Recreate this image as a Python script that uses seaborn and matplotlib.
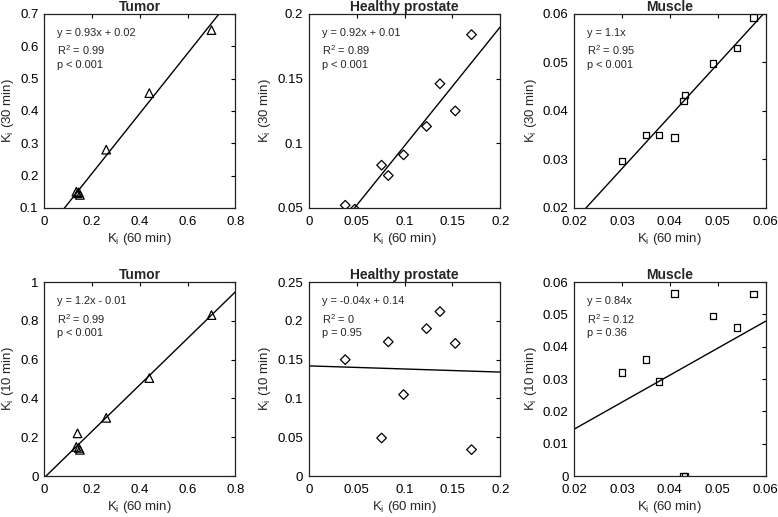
import numpy as np
import pandas as pd
import matplotlib
matplotlib.use("Agg")
import matplotlib.pyplot as plt
import seaborn as sns

# Ki values
tumor_k60 = [0.135, 0.14, 0.145, 0.15, 0.26, 0.44, 0.70]
tumor_k30 = [0.15, 0.145, 0.148, 0.14, 0.28, 0.455, 0.65]
tumor_k10 = [0.15, 0.22, 0.145, 0.135, 0.30, 0.505, 0.83]

prostate_k60 = [0.038, 0.048, 0.076, 0.083, 0.099, 0.123, 0.137, 0.153, 0.170]
prostate_k30 = [0.052, 0.049, 0.083, 0.075, 0.091, 0.113, 0.146, 0.125, 0.184]
prostate_k10 = [0.15, np.nan, 0.049, 0.173, 0.105, 0.19, 0.212, 0.171, 0.034]

muscle_k60 = [0.030, 0.035, 0.0377, 0.041, 0.0428, 0.0432, 0.049, 0.054, 0.0575]
muscle_k30 = [0.0297, 0.035, 0.035, 0.0345, 0.042, 0.0433, 0.0498, 0.053, 0.0593]
muscle_k10 = [0.032, 0.036, 0.0293, 0.0565, 0.0, 0.0, 0.0495, 0.046, 0.0563]

# regression lines (slope, intercept) as drawn
fit_lines = {
    ("Tumor", 30): (0.93, 0.02),
    ("Healthy prostate", 30): (0.92, 0.006),
    ("Muscle", 30): (1.08, -0.0043),
    ("Tumor", 10): (1.2, -0.01),
    ("Healthy prostate", 10): (-0.04, 0.142),
    ("Muscle", 10): (0.835, -0.0022),
}

fit_text = {
    ("Tumor", 30): ["y = 0.93x + 0.02", "R$^2$ = 0.99", "p < 0.001"],
    ("Healthy prostate", 30): ["y = 0.92x + 0.01", "R$^2$ = 0.89", "p < 0.001"],
    ("Muscle", 30): ["y = 1.1x", "R$^2$ = 0.95", "p < 0.001"],
    ("Tumor", 10): ["y = 1.2x - 0.01", "R$^2$ = 0.99", "p < 0.001"],
    ("Healthy prostate", 10): ["y = -0.04x + 0.14", "R$^2$ = 0", "p = 0.95"],
    ("Muscle", 10): ["y = 0.84x", "R$^2$ = 0.12", "p = 0.36"],
}

panels = [
    ("Tumor", 30, tumor_k60, tumor_k30, "^", (0, 0.8), np.arange(0, 0.81, 0.2), (0.1, 0.7), np.arange(0.1, 0.71, 0.1)),
    ("Healthy prostate", 30, prostate_k60, prostate_k30, "D", (0, 0.2), np.arange(0, 0.21, 0.05), (0.05, 0.2), np.arange(0.05, 0.21, 0.05)),
    ("Muscle", 30, muscle_k60, muscle_k30, "s", (0.02, 0.06), np.arange(0.02, 0.061, 0.01), (0.02, 0.06), np.arange(0.02, 0.061, 0.01)),
    ("Tumor", 10, tumor_k60, tumor_k10, "^", (0, 0.8), np.arange(0, 0.81, 0.2), (0, 1), np.arange(0, 1.01, 0.2)),
    ("Healthy prostate", 10, prostate_k60, prostate_k10, "D", (0, 0.2), np.arange(0, 0.21, 0.05), (0, 0.25), np.arange(0, 0.251, 0.05)),
    ("Muscle", 10, muscle_k60, muscle_k10, "s", (0.02, 0.06), np.arange(0.02, 0.061, 0.01), (0, 0.06), np.arange(0, 0.061, 0.01)),
]

sns.set_style("white")
plt.rcParams['font.family'] = ['Liberation Sans', 'DejaVu Sans']
plt.rcParams['mathtext.fontset'] = 'custom'
plt.rcParams['mathtext.rm'] = 'Liberation Sans'
plt.rcParams['mathtext.it'] = 'Liberation Sans:italic'

fig = plt.figure(figsize=(7.78, 5.17), dpi=100)

lefts = [0.0566, 0.397, 0.738]
bottoms = [0.598, 0.0793]
w, h = 0.246, 0.375

marker_sizes = {"^": 38, "D": 24, "s": 22}


def fmt(v):
    s = f"{v:.2f}".rstrip("0").rstrip(".")
    return s


for i, (name, t, xs, ys, mk, xl, xt, yl, yt) in enumerate(panels):
    ax = fig.add_axes([lefts[i % 3], bottoms[i // 3], w, h])
    df = pd.DataFrame({"k60": xs, "k": ys}).dropna()
    sns.scatterplot(data=df, x="k60", y="k", marker=mk, s=marker_sizes[mk],
                    facecolor="none", edgecolor="black", linewidth=0.9, ax=ax,
                    clip_on=True, zorder=3)
    slope, icpt = fit_lines[(name, t)]
    lx = np.array(xl)
    ax.plot(lx, slope * lx + icpt, color="black", lw=1.0, zorder=2)
    ax.set_xlim(xl)
    ax.set_ylim(yl)
    ax.set_xticks(xt)
    ax.set_yticks(yt)
    ax.set_xticklabels([fmt(v) for v in xt])
    ax.set_yticklabels([fmt(v) for v in yt])
    ax.tick_params(direction="in", length=3, width=0.8, top=True, right=True,
                   labelsize=9.5, colors="black")
    ax.tick_params(axis="x", pad=6)
    ax.tick_params(axis="y", pad=4)
    for sp in ax.spines.values():
        sp.set_linewidth(0.9)
        sp.set_color("#222222")
    ax.set_title(name, fontsize=10, fontweight="bold", pad=2)
    ax.set_xlabel(r"K$_\mathrm{i}$ (60 min)", fontsize=9.5, labelpad=2)
    ax.set_ylabel(r"K$_\mathrm{i}$ (%d min)" % t, fontsize=9.5, labelpad=3)
    for j, line in enumerate(fit_text[(name, t)]):
        ax.text(0.067, 0.93 - j * 0.083, line, transform=ax.transAxes,
                fontsize=7.9, va="top", ha="left")

fig.savefig("out.png", dpi=100)
